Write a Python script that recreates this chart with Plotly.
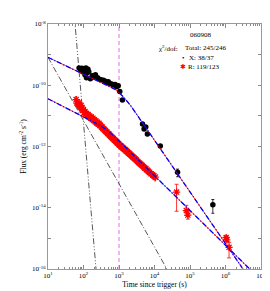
import plotly.graph_objects as go

# ---------------- data ----------------
# X-ray (black)
x_t = [75, 83, 91, 94, 103, 110, 117, 125, 133, 141, 121, 156, 176, 196, 217, 250, 274, 311,
       365, 413, 455, 500, 549, 623, 694, 777, 855, 951, 1052, 1250, 4600, 5090, 5670, 6310,
       14600, 44600, 440000]
x_f = [3.69e-10, 3.18e-10, 3.56e-10, 2.75e-10, 3.18e-10, 2.20e-10, 3.69e-10, 2.55e-10, 3.30e-10,
       2.75e-10, 1.76e-10, 1.63e-10, 2.04e-10, 1.97e-10, 2.20e-10, 1.76e-10, 1.57e-10, 1.52e-10,
       1.46e-10, 1.36e-10, 1.21e-10, 1.31e-10, 1.13e-10, 1.09e-10, 1.01e-10, 1.05e-10, 9.0e-11,
       9.7e-11, 6.3e-11, 3.3e-11, 5.4e-12, 3.72e-12, 4.32e-12, 2.57e-12, 1.03e-12, 1.43e-13, 1.26e-14]
x_err = [2.5e-11, 2.2e-11, 2.5e-11, 2.0e-11, 2.2e-11, 1.6e-11, 2.5e-11, 1.8e-11, 2.3e-11, 2.0e-11,
         1.3e-11, 1.2e-11, 1.4e-11, 1.4e-11, 1.5e-11, 1.2e-11, 1.1e-11, 1.1e-11, 1.0e-11, 9e-12,
         8e-12, 9e-12, 8e-12, 7e-12, 7e-12, 7e-12, 6e-12, 7e-12, 5e-12, 3e-12, 5e-13, 4e-13, 4e-13,
         3e-13, 1.2e-13, 4e-14, 6e-15]

# Optical R (red)
r_t = [62, 66, 70, 74, 78, 82, 86, 90, 95, 100, 105, 110, 116, 122, 128, 135, 142, 150, 158, 166,
       175, 184, 193, 203, 213, 224, 236, 248, 260, 274, 288, 303, 318, 334, 350, 370, 390, 410,
       430, 455, 480, 505, 530, 560, 590, 620, 655, 690, 730, 770, 810, 855, 900, 950, 1000, 1060,
       1120, 1180, 1250, 1330, 1420, 1510, 1600, 1700, 1810, 1930, 2050, 2200, 2350, 2500, 2700,
       2900, 3100, 3350, 3600, 3900, 4200, 4500, 4900, 5300, 5700, 6200, 6700, 7300, 8000, 8800,
       9600, 10500]
r_f = [3.4e-11, 2.6e-11, 2.4e-11, 2.7e-11, 2.1e-11, 1.9e-11, 2.2e-11, 1.7e-11, 1.5e-11, 1.6e-11,
       1.3e-11, 1.4e-11, 1.15e-11, 1.2e-11, 1.05e-11, 1.1e-11, 9.5e-12, 9.8e-12, 8.6e-12, 9.1e-12,
       8.0e-12, 8.4e-12, 7.2e-12, 7.5e-12, 6.5e-12, 6.8e-12, 6.0e-12, 6.2e-12, 5.4e-12, 5.7e-12,
       5.0e-12, 4.9e-12, 4.4e-12, 4.3e-12, 3.9e-12, 3.8e-12, 3.5e-12, 3.3e-12, 3.1e-12, 3.0e-12,
       2.7e-12, 2.6e-12, 2.5e-12, 2.3e-12, 2.15e-12, 2.0e-12, 1.95e-12, 1.8e-12, 1.65e-12, 1.6e-12,
       1.5e-12, 1.42e-12, 1.3e-12, 1.25e-12, 1.18e-12, 1.1e-12, 1.05e-12, 1.0e-12, 9.3e-13, 8.8e-13,
       8.2e-13, 7.8e-13, 7.2e-13, 6.8e-13, 6.3e-13, 6.0e-13, 5.6e-13, 5.2e-13, 4.8e-13, 4.5e-13,
       4.2e-13, 3.9e-13, 3.6e-13, 3.3e-13, 3.0e-13, 2.8e-13, 2.6e-13, 2.4e-13, 2.2e-13, 2.0e-13,
       1.9e-13, 1.7e-13, 1.55e-13, 1.45e-13, 1.3e-13, 1.2e-13, 1.1e-13, 1.0e-13]
r_err_pct = 25

# late optical points (red) with asymmetric errors
rl_t = [41900, 78700, 87100, 1045000, 1086000, 1260000]
rl_f = [3.24e-14, 8.1e-15, 5.75e-15, 1.07e-15, 9.0e-16, 5.1e-16]
rl_up = [2.6e-14, 3.9e-15, 2.0e-15, 1.5e-16, 1.3e-16, 2.3e-16]
rl_dn = [2.47e-14, 2.5e-15, 1.5e-15, 1.3e-16, 1.1e-16, 2.8e-16]

# fitted models (nodes)
xfit_t = [10, 455, 753, 1033, 1416, 2200, 22300, 3.11e6, 9.7e6]
xfit_f = [8.17e-10, 1.03e-10, 7.5e-11, 5.57e-11, 3.85e-11, 2.05e-11, 4.03e-13, 1e-16, 1.49e-17]
rfit_t = [10, 129, 274, 455, 753, 1600, 10640, 4.84e6, 9.7e6]
rfit_f = [3.63e-11, 8.24e-12, 5.08e-12, 3.46e-12, 2.07e-12, 8.9e-13, 1.04e-13, 1e-16, 4.5e-17]
# steep components (black dash-dot)
compA_t = [55, 249]
compA_f = [1.95e-8, 2.6e-17]
compB_t = [10, 37600]
compB_f = [8.17e-10, 3.4e-17]
t_vline = 1000

# labels
title_txt = "060908"
chi_lbl = "χ<sup>2</sup>/dof:"
total_lbl = "Total: 245/246"
x_lbl = "X: 38/37"
r_lbl = "R: 119/123"
xticks = [10, 100, 1000, 1e4, 1e5, 1e6, 1e7]
xtick_txt = ["10<sup>1</sup>", "10<sup>2</sup>", "10<sup>3</sup>", "10<sup>4</sup>",
             "10<sup>5</sup>", "10<sup>6</sup>", "10<sup>7</sup>"]
yexp = [-16, -15, -14, -13, -12, -11, -10, -9, -8]

# ---------------- figure ----------------
FONT = "Liberation Serif, Times New Roman, serif"
fig = go.Figure()

# vertical dashed line
fig.add_trace(go.Scatter(x=[t_vline, t_vline], y=[1e-16, 1e-8], mode="lines",
                         line=dict(color="#e070e0", width=1, dash="4px,3px"), hoverinfo="skip"))
# components
fig.add_trace(go.Scatter(x=compA_t, y=compA_f, mode="lines",
                         line=dict(color="#444444", width=0.9, dash="6px,2px,1px,2px,1px,2px")))
fig.add_trace(go.Scatter(x=compB_t, y=compB_f, mode="lines",
                         line=dict(color="#444444", width=0.9, dash="6px,2px,1px,2px")))

# data
fig.add_trace(go.Scatter(x=r_t, y=r_f, mode="markers",
                         marker=dict(symbol="asterisk-open", size=6, color="red",
                                     line=dict(color="red", width=1.3)),
                         error_y=dict(type="percent", value=r_err_pct, color="red",
                                      thickness=0.8, width=1)))
fig.add_trace(go.Scatter(x=rl_t, y=rl_f, mode="markers",
                         marker=dict(symbol="asterisk-open", size=6, color="red",
                                     line=dict(color="red", width=1.3)),
                         error_y=dict(type="data", array=rl_up, arrayminus=rl_dn, symmetric=False,
                                      color="red", thickness=0.8, width=2)))
fig.add_trace(go.Scatter(x=x_t, y=x_f, mode="markers",
                         marker=dict(symbol="circle", size=5.5, color="black"),
                         error_y=dict(type="data", array=x_err, color="black",
                                      thickness=0.8, width=1.5)))

# fits: red solid under blue dash-dot
for tt, ff in ((xfit_t, xfit_f), (rfit_t, rfit_f)):
    fig.add_trace(go.Scatter(x=tt, y=ff, mode="lines", line=dict(color="red", width=0.8)))
    fig.add_trace(go.Scatter(x=tt, y=ff, mode="lines",
                             line=dict(color="blue", width=1.3, dash="5px,2px,1px,2px")))

minor_x = [m * 10 ** d for d in range(1, 7) for m in range(2, 10)]

fig.update_xaxes(type="log", range=[1, 7], tickmode="array", tickvals=xticks, ticktext=xtick_txt,
                 ticks="inside", ticklen=4, tickcolor="#888", linecolor="#999", linewidth=1,
                 mirror="allticks", showgrid=False, zeroline=False,
                 minor=dict(tickmode="array", tickvals=minor_x, ticks="inside", ticklen=2,
                            tickcolor="#888", showgrid=False),
                 tickfont=dict(family=FONT, size=7, color="black"),
                 title=dict(text="Time since trigger (s)", font=dict(family=FONT, size=7.5, color="black"),
                            standoff=2))
fig.update_yaxes(type="log", range=[-16, -8], tickmode="array",
                 tickvals=[10.0 ** e for e in yexp],
                 ticktext=[("10<sup>%d</sup>" % e) if e % 2 == 0 else "" for e in yexp],
                 ticks="inside", ticklen=3, tickcolor="#888", linecolor="#999", linewidth=1,
                 mirror="allticks", showgrid=False, zeroline=False,
                 tickfont=dict(family=FONT, size=7, color="black"),
                 title=dict(text="Flux (erg cm<sup>-2</sup> s<sup>-1</sup>)",
                            font=dict(family=FONT, size=7.5, color="black"), standoff=4))

ann_font = dict(family=FONT, size=7, color="black")
anns = [
    dict(x=0.718, y=0.954, text=title_txt, xanchor="center"),
    dict(x=0.512, y=0.900, text=chi_lbl, xanchor="left"),
    dict(x=0.634, y=0.900, text=total_lbl, xanchor="left"),
    dict(x=0.635, y=0.860, text="•", xanchor="center"),
    dict(x=0.653, y=0.860, text=x_lbl, xanchor="left"),
    dict(x=0.636, y=0.824, text="<span style='color:red'>✱</span>", xanchor="center"),
    dict(x=0.649, y=0.824, text=r_lbl, xanchor="left"),
]
for a in anns:
    fig.add_annotation(xref="paper", yref="paper", yanchor="middle", showarrow=False,
                       font=ann_font, **a)

fig.update_layout(width=270, height=291, margin=dict(l=39.5, r=11.5, t=13.5, b=29),
                  paper_bgcolor="white", plot_bgcolor="white", showlegend=False)

fig.write_html("out.html")
